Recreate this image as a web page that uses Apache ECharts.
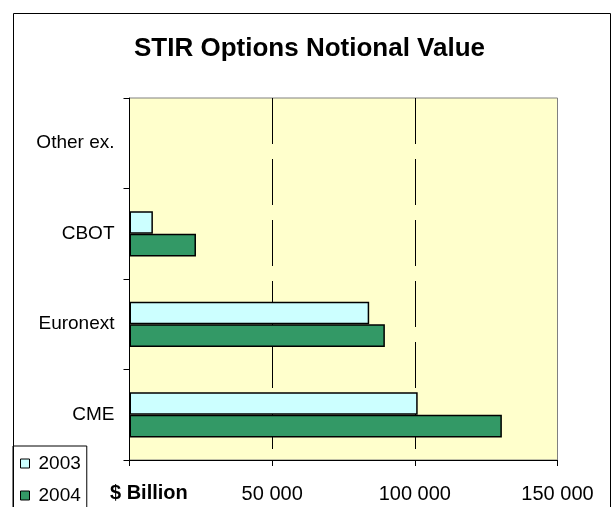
<!DOCTYPE html>
<html>
<head>
<meta charset="utf-8">
<script src="https://cdn.jsdelivr.net/npm/echarts@6/dist/echarts.min.js"></script>
<style>
  html, body { margin: 0; padding: 0; background: #fff; }
  #chart { width: 615px; height: 507px; }
</style>
</head>
<body>
<div id="chart"></div>
<script>
// exchanges, top to bottom
var categories = ['Other ex.', 'CBOT', 'Euronext', 'CME'];
// $ billion (Other ex. shows no bar)
var values2003 = [null, 8200, 84000, 101000];
var values2004 = [null, 23300, 89500, 130500];
var xTicks = [0, 50000, 100000, 150000];

var font = 'Arial, "Liberation Sans", sans-serif';

function fmt(v) {
  if (v === 0) return '';
  return String(v).replace(/\B(?=(\d{3})+(?!\d))/g, ' ');
}

var chart = echarts.init(document.getElementById('chart'));
var option = {
  animation: false,
  backgroundColor: '#fff',
  title: {
    text: 'STIR Options Notional Value',
    left: 134,
    top: 36,
    padding: 0,
    textStyle: { fontFamily: font, fontSize: 26, fontWeight: 'bold', color: '#000' }
  },
  legend: {
    orient: 'vertical',
    left: 13,
    top: 446,
    height: 90,
    data: ['2003', '2004'],
    icon: 'rect',
    itemWidth: 9,
    itemHeight: 9,
    itemGap: 13,
    padding: [8, 6, 10, 7],
    borderColor: '#000',
    borderWidth: 1,
    backgroundColor: '#fff',
    selectedMode: false,
    itemStyle: { borderWidth: 1, borderColor: '#000' },
    textStyle: { fontFamily: font, fontSize: 19, color: '#000', padding: [0, 0, 0, 4] }
  },
  grid: {
    left: 129.5,
    right: 57.5,
    top: 98,
    bottom: 47,
    show: true,
    backgroundColor: '#FFFFCC',
    borderColor: '#808080',
    borderWidth: 1
  },
  xAxis: {
    type: 'value',
    min: xTicks[0],
    max: xTicks[xTicks.length - 1],
    interval: 50000,
    axisLine: { show: true, lineStyle: { color: '#000', width: 1 } },
    axisTick: { show: true, length: 6, lineStyle: { color: '#000' } },
    axisLabel: {
      margin: 24,
      formatter: fmt,
      fontFamily: font,
      fontSize: 20,
      color: '#000'
    },
    splitLine: {
      show: true,
      lineStyle: {
        color: ['rgba(0,0,0,0)', '#000', '#000', 'rgba(0,0,0,0)'],
        width: 1,
        type: [46, 15]
      }
    }
  },
  yAxis: {
    type: 'category',
    data: categories,
    inverse: true,
    axisLine: { show: true, lineStyle: { color: '#000', width: 1 } },
    axisTick: { show: true, length: 6, lineStyle: { color: '#000' } },
    axisLabel: { margin: 15, fontFamily: font, fontSize: 19, color: '#000' },
    splitLine: { show: false }
  },
  series: [
    {
      name: '2003',
      type: 'bar',
      data: values2003,
      barGap: 0,
      barCategoryGap: '50%',
      itemStyle: { color: '#CCFFFF', borderColor: '#000', borderWidth: 1.5 }
    },
    {
      name: '2004',
      type: 'bar',
      data: values2004,
      barGap: 0,
      barCategoryGap: '50%',
      itemStyle: { color: '#339966', borderColor: '#000', borderWidth: 1.5 }
    }
  ],
  graphic: [
    {
      type: 'rect',
      shape: { x: 13.5, y: 13.5, width: 597, height: 520 },
      style: { fill: 'none', stroke: '#000', lineWidth: 1 },
      z: 100
    },
    {
      type: 'text',
      left: 110,
      top: 483,
      style: { text: '$ Billion', fontFamily: font, fontSize: 20, fontWeight: 'bold', fill: '#000' },
      z: 100
    }
  ]
};
chart.setOption(option);
</script>
</body>
</html>
